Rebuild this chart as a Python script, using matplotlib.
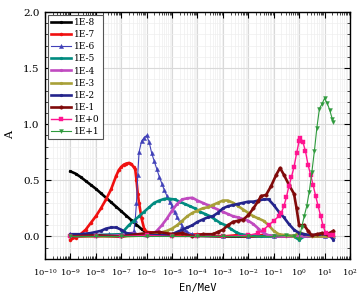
import numpy as np
import matplotlib
matplotlib.use("Agg")
import matplotlib.pyplot as plt
from matplotlib.ticker import LogLocator, MultipleLocator, NullFormatter

plt.rcParams['font.family'] = ['DejaVu Serif']
plt.rcParams['mathtext.fontset'] = 'dejavuserif'

# Series data: exponents of En (MeV) and A values;
labels = ['1E-8', '1E-7', '1E-6', '1E-5', '1E-4', '1E-3', '1E-2', '1E-1', '1E+0', '1E+1']

exp_1e_8 = [-9.0, -8.8, -8.6, -8.4, -8.2, -8.0, -7.8, -7.6, -7.4, -7.2, -7.0, -6.8, -6.6,
            -6.4, -6.2, -6.0, -5.8, -5.0, -4.0, -3.0, -2.0, -1.0, 0.0, 1.0, 1.35]
a_1e_8 = [0.58, 0.56, 0.53, 0.495, 0.46, 0.425, 0.385, 0.345, 0.305, 0.265, 0.225, 0.185, 0.145,
          0.105, 0.065, 0.035, 0.02, 0.01, 0.005, 0.0, 0.0, 0.005, 0.0, 0.0, 0.0]

exp_1e_7 = [-9.0, -8.8, -8.6, -8.4, -8.2, -8.0, -7.8, -7.6, -7.4, -7.2, -7.1, -7.0, -6.9, -6.8,
            -6.7, -6.6, -6.5, -6.45, -6.4, -6.35, -6.3, -6.2, -6.1, -6.0, -5.5, -5.0, -4.5,
            -4.0, -3.5, -3.0, -2.5, -2.0, -1.5, -1.0, -0.5, 0.0, 0.5, 1.0, 1.35]
a_1e_7 = [-0.03, -0.01, 0.02, 0.06, 0.12, 0.18, 0.25, 0.33, 0.42, 0.54, 0.59, 0.62, 0.64, 0.65,
          0.655, 0.645, 0.615, 0.6, 0.5, 0.38, 0.3, 0.16, 0.07, 0.04, 0.03, 0.02, 0.01,
          0.02, 0.01, 0.0, 0.01, 0.0, 0.01, 0.0, 0.0, 0.01, 0.0, 0.0, 0.0]

exp_1e_6 = [-9.0, -8.5, -8.0, -7.5, -7.0, -6.6, -6.5, -6.45, -6.4, -6.35, -6.3, -6.2, -6.1,
            -6.0, -5.9, -5.8, -5.7, -5.6, -5.5, -5.4, -5.3, -5.2, -5.1, -5.0, -4.9, -4.8,
            -4.7, -4.6, -4.5, -4.4, -4.2, -4.0, -3.0, -2.0, -1.0, 0.0, 1.0, 1.35]
a_1e_6 = [0.02, 0.02, 0.02, 0.02, 0.02, 0.02, 0.05, 0.15, 0.3, 0.55, 0.75, 0.85, 0.88,
          0.9, 0.84, 0.74, 0.67, 0.6, 0.53, 0.47, 0.41, 0.36, 0.31, 0.27, 0.22, 0.17,
          0.13, 0.09, 0.06, 0.04, 0.02, 0.01, 0.0, 0.0, 0.0, 0.0, 0.0, 0.0]

exp_1e_5 = [-9.0, -8.0, -7.0, -6.9, -6.7, -6.5, -6.3, -6.1, -5.9, -5.7, -5.5, -5.3, -5.1,
            -4.9, -4.7, -4.5, -4.3, -4.1, -3.9, -3.7, -3.5, -3.3, -3.1, -2.9, -2.7, -2.5,
            -2.3, -2.0, -1.5, -1.0, -0.5, -0.2, 0.0, 0.2, 0.5, 1.0, 1.35]
a_1e_5 = [0.01, 0.01, 0.02, 0.05, 0.1, 0.14, 0.18, 0.22, 0.26, 0.3, 0.32, 0.335, 0.335,
          0.33, 0.31, 0.29, 0.27, 0.25, 0.22, 0.2, 0.18, 0.15, 0.12, 0.1, 0.07, 0.04,
          0.02, 0.01, 0.0, 0.0, 0.01, 0.0, -0.03, 0.0, 0.01, 0.0, 0.0]

exp_1e_4 = [-9.0, -8.0, -7.0, -6.6, -6.4, -6.0, -5.8, -5.6, -5.4, -5.2, -5.0, -4.8, -4.6,
            -4.4, -4.2, -4.0, -3.8, -3.6, -3.4, -3.2, -3.0, -2.8, -2.6, -2.4, -2.2, -2.0,
            -1.8, -1.6, -1.4, -1.2, -1.0, 0.0, 1.0, 1.35]
a_1e_4 = [0.0, 0.0, 0.01, 0.03, 0.02, 0.0, 0.01, 0.05, 0.1, 0.16, 0.23, 0.29, 0.33,
          0.34, 0.345, 0.32, 0.3, 0.28, 0.26, 0.24, 0.22, 0.2, 0.18, 0.17, 0.155, 0.14,
          0.11, 0.07, 0.03, 0.01, 0.0, 0.0, 0.0, 0.0]

exp_1e_3 = [-9.0, -8.0, -7.0, -6.0, -5.5, -5.2, -5.0, -4.8, -4.6, -4.4, -4.2, -4.0, -3.8,
            -3.6, -3.4, -3.2, -3.0, -2.8, -2.6, -2.4, -2.2, -2.0, -1.8, -1.6, -1.4, -1.2,
            -1.0, -0.8, -0.5, -0.2, 0.0, 0.2, 0.5, 1.0, 1.35]
a_1e_3 = [0.0, 0.0, 0.0, 0.01, 0.03, 0.05, 0.07, 0.1, 0.14, 0.18, 0.21, 0.23, 0.25,
          0.26, 0.28, 0.3, 0.32, 0.32, 0.3, 0.27, 0.24, 0.21, 0.18, 0.16, 0.14, 0.1,
          0.05, 0.02, 0.01, 0.0, 0.04, 0.02, 0.0, 0.0, 0.0]

exp_1e_2 = [-9.0, -8.6, -8.2, -7.8, -7.6, -7.4, -7.2, -7.0, -6.8, -6.5, -6.0, -5.5, -5.0,
            -4.8, -4.6, -4.4, -4.2, -4.0, -3.8, -3.6, -3.4, -3.2, -3.0, -2.8, -2.6, -2.4,
            -2.2, -2.0, -1.8, -1.6, -1.4, -1.2, -1.0, -0.8, -0.6, -0.4, -0.2, 0.0, 0.2,
            0.5, 0.8, 1.0, 1.2, 1.35]
a_1e_2 = [0.02, 0.02, 0.03, 0.05, 0.07, 0.08, 0.08, 0.06, 0.03, 0.02, 0.01, 0.01, 0.02,
          0.04, 0.06, 0.08, 0.1, 0.13, 0.15, 0.17, 0.18, 0.21, 0.25, 0.27, 0.28, 0.29,
          0.3, 0.31, 0.31, 0.32, 0.33, 0.33, 0.28, 0.22, 0.17, 0.11, 0.06, 0.03, 0.02,
          0.01, 0.02, 0.02, 0.01, -0.03]

exp_1e_1 = [-9.0, -8.0, -7.0, -6.0, -5.5, -5.0, -4.6, -4.2, -3.8, -3.4, -3.2, -3.0, -2.8,
            -2.6, -2.4, -2.2, -2.0, -1.8, -1.6, -1.5, -1.3, -1.1, -0.9, -0.75, -0.6, -0.4,
            -0.2, -0.1, 0.0, 0.2, 0.35, 0.5, 0.7, 0.9, 1.1, 1.35]
a_1e_1 = [0.0, 0.01, 0.0, 0.03, 0.04, 0.02, 0.03, 0.0, 0.02, 0.02, 0.04, 0.06, 0.1,
          0.13, 0.14, 0.15, 0.19, 0.25, 0.32, 0.36, 0.37, 0.45, 0.55, 0.61, 0.55, 0.46,
          0.38, 0.25, 0.1, 0.1, 0.05, 0.01, 0.02, 0.03, 0.02, 0.05]

exp_1e0 = [-9.0, -8.0, -7.0, -6.0, -5.0, -4.0, -3.0, -2.0, -1.6, -1.4, -1.2, -1.0, -0.8,
           -0.7, -0.6, -0.5, -0.4, -0.3, -0.2, -0.1, 0.0, 0.05, 0.15, 0.25, 0.35, 0.45,
           0.55, 0.65, 0.75, 0.85, 0.95, 1.05, 1.2, 1.35]
a_1e0 = [0.0, 0.0, 0.0, 0.01, 0.0, 0.0, 0.0, 0.01, 0.03, 0.06, 0.1, 0.14, 0.18,
         0.21, 0.27, 0.35, 0.45, 0.53, 0.62, 0.74, 0.85, 0.88, 0.84, 0.76, 0.64, 0.55,
         0.46, 0.36, 0.27, 0.18, 0.09, 0.03, 0.01, 0.01]

exp_1e1 = [-9.0, -8.0, -7.0, -6.0, -5.0, -4.0, -3.0, -2.0, -1.0, -0.5, -0.2, 0.0, 0.1,
           0.2, 0.3, 0.4, 0.5, 0.6, 0.7, 0.8, 0.9, 1.0, 1.1, 1.2, 1.3, 1.35]
a_1e1 = [0.0, 0.0, 0.0, 0.0, 0.0, 0.0, 0.0, 0.0, 0.0, 0.01, 0.0, -0.02, 0.08,
         0.18, 0.27, 0.4, 0.57, 0.76, 0.97, 1.14, 1.18, 1.23, 1.19, 1.13, 1.05, 1.02]

series = [
    (exp_1e_8, a_1e_8, '#000000', 'o', 1.9, 2.0),
    (exp_1e_7, a_1e_7, '#f01010', 'o', 1.9, 2.2),
    (exp_1e_6, a_1e_6, '#4040b8', '^', 0.8, 3.0),
    (exp_1e_5, a_1e_5, '#008b80', 'o', 1.9, 2.0),
    (exp_1e_4, a_1e_4, '#c04ac0', 'o', 1.9, 2.0),
    (exp_1e_3, a_1e_3, '#a8a038', 'o', 1.9, 2.0),
    (exp_1e_2, a_1e_2, '#24248c', 'o', 1.9, 2.0),
    (exp_1e_1, a_1e_1, '#800a0a', 'o', 1.9, 2.5),
    (exp_1e0, a_1e0, '#ff1490', 's', 1.0, 2.8),
    (exp_1e1, a_1e1, '#2e9a3c', 'v', 0.8, 2.8),
]

fig, ax = plt.subplots(figsize=(3.63, 3.0), dpi=100)
fig.subplots_adjust(left=0.124, right=0.964, top=0.96, bottom=0.137)

for (ex, a, color, marker, lw, ms), name in zip(series, labels):
    ax.plot(10.0 ** np.array(ex), a, color=color, marker=marker, lw=lw, ms=ms,
            mec=color, mew=0.3, label=name)

ax.set_xscale('log')
ax.set_xlim(1e-10, 1e2)
ax.set_ylim(-0.2, 2.0)
ax.xaxis.set_major_locator(LogLocator(base=10, numticks=20))
ax.xaxis.set_minor_locator(LogLocator(base=10, subs=np.arange(2, 10), numticks=20))
ax.xaxis.set_minor_formatter(NullFormatter())
ax.yaxis.set_major_locator(MultipleLocator(0.5))
ax.yaxis.set_minor_locator(MultipleLocator(0.1))
ax.yaxis.set_major_formatter(plt.FuncFormatter(lambda v, p: f'{v:.1f}'))

ax.tick_params(which='both', direction='in', top=True, right=True)
ax.tick_params(which='major', length=4, width=0.8)
ax.tick_params(which='minor', length=2, width=0.5)
ax.tick_params(axis='x', labelsize=6, pad=6)
ax.tick_params(axis='y', labelsize=7.5, pad=4)

ax.grid(True, which='major', color='#d9d9d9', lw=0.8)
ax.grid(True, which='minor', color='#eeeeee', lw=0.5)
ax.set_axisbelow(True)
for sp in ax.spines.values():
    sp.set_linewidth(1.0)

ax.set_xlabel('En/MeV', fontsize=7.5, family='DejaVu Sans Mono', labelpad=3)
ax.set_ylabel('A', fontsize=8, labelpad=6)

leg = ax.legend(loc='upper left', fontsize=6.5, handlelength=2.2, labelspacing=0.35,
                borderpad=0.35, handletextpad=0.4, borderaxespad=0.3,
                fancybox=False, framealpha=1.0)
leg.get_frame().set_edgecolor('#555555')
leg.get_frame().set_linewidth(0.8)

plt.savefig('out.png', dpi=100)
